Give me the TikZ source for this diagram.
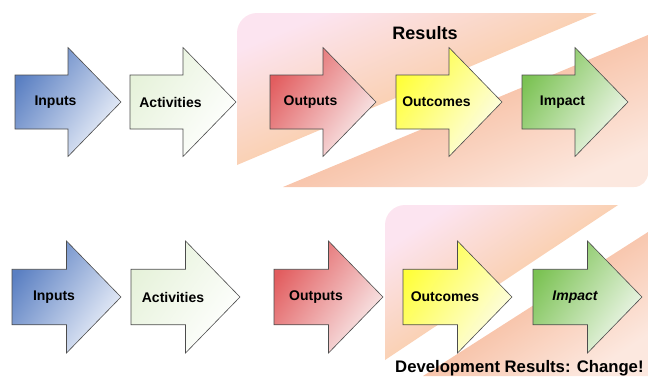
\documentclass[tikz,border=0pt]{standalone}
\usepackage{fontspec}
\setmainfont{Liberation Sans}
\usetikzlibrary{shadows}
\definecolor{inblue}{HTML}{5A7FC2}
\definecolor{inlight}{HTML}{EEF2FA}
\definecolor{actgreen}{HTML}{E6F2DA}
\definecolor{outred}{HTML}{E25D5F}
\definecolor{outlight}{HTML}{F9EEEE}
\definecolor{ocyellow}{HTML}{FFFF3A}
\definecolor{oclight}{HTML}{FDFDEB}
\definecolor{impgreen}{HTML}{7BC253}
\definecolor{implight}{HTML}{F2F8EF}
\definecolor{bgpink}{HTML}{FCE4F0}
\definecolor{bgorange}{HTML}{F7BE78}
\definecolor{bgsalmon}{HTML}{F4A47B}
\definecolor{bglight}{HTML}{FCE8DF}
\begin{document}
\begin{tikzpicture}[x=1pt,y=-1pt,
stage/.pic={\path[pic actions] (0,-27) -- (53,-27) -- (53,-54.5) -- (106,0) -- (53,54.5) -- (53,27) -- (0,27) -- cycle;},
stagestyle/.style={draw=black!70,line width=0.6pt,
drop shadow={shadow xshift=1.5pt,shadow yshift=-1.5pt,opacity=0.45}},
slant/.style={shading angle=55},
bigstage/.style={stagestyle,scale=1.028},
lbl/.style={font=\fontsize{14}{16}\selectfont\bfseries,inner sep=0pt},
title/.style={font=\fontsize{18}{20}\selectfont\bfseries,inner sep=0pt}]
\useasboundingbox (0,0) rectangle (648,376);

\shade[top color=bgpink,middle color=bgorange,bottom color=bgorange,shading angle=23]
(237,165) [rounded corners=20pt]-- (237,13) [sharp corners]-- (597,13) -- cycle;
\shade[top color=bgsalmon,bottom color=bglight,shading angle=23]
(283,187) -- (648,35) [rounded corners=14pt]-- (648,187) [sharp corners]-- cycle;
\shade[top color=bgpink,middle color=bgorange,bottom color=bgorange,shading angle=34]
(385,360) [rounded corners=20pt]-- (385,205) [sharp corners]-- (618,205) -- cycle;
\shade[top color=bgsalmon,bottom color=bglight,shading angle=34]
(423,376) -- (648,232) -- (648,376) -- cycle;

\node[title] (results) at (425,33) {Results};

\pic[stagestyle,top color=inblue,bottom color=inlight,slant] at (15,102) {stage};
\pic[stagestyle,top color=actgreen,bottom color=white,slant] at (130,102) {stage};
\pic[stagestyle,top color=outred,bottom color=outlight,slant] at (270,102) {stage};
\pic[stagestyle,top color=ocyellow,bottom color=oclight,slant] at (396,102) {stage};
\pic[stagestyle,top color=impgreen,bottom color=implight,slant] at (522,102) {stage};

\node[lbl] (inputs1) at (55.5,102) {Inputs};
\node[lbl] (activities1) at (170.5,102) {Activities};
\node[lbl] (outputs1) at (310.5,102) {Outputs};
\node[lbl] (outcomes1) at (436.5,102) {Outcomes};
\node[lbl] (impact1) at (562.5,102) {Impact};

\pic[bigstage,top color=inblue,bottom color=inlight,slant] at (12,297) {stage};
\pic[bigstage,top color=actgreen,bottom color=white,slant] at (131,297) {stage};
\pic[bigstage,top color=outred,bottom color=outlight,slant] at (274,297) {stage};
\pic[bigstage,top color=ocyellow,bottom color=oclight,slant] at (403,297) {stage};
\pic[bigstage,top color=impgreen,bottom color=implight,slant] at (533,297) {stage};

\node[lbl] (inputs2) at (54,297) {Inputs};
\node[lbl] (activities2) at (173,297) {Activities};
\node[lbl] (outputs2) at (316,297) {Outputs};
\node[lbl] (outcomes2) at (445,297) {Outcomes};
\node[lbl] (impact2) at (575,297) {\itshape Impact};

\node[font=\fontsize{16.7}{18}\selectfont\bfseries,inner sep=0pt,anchor=base west] (devresults) at (395,372) {Development Results: Change!};
\end{tikzpicture}
\end{document}
